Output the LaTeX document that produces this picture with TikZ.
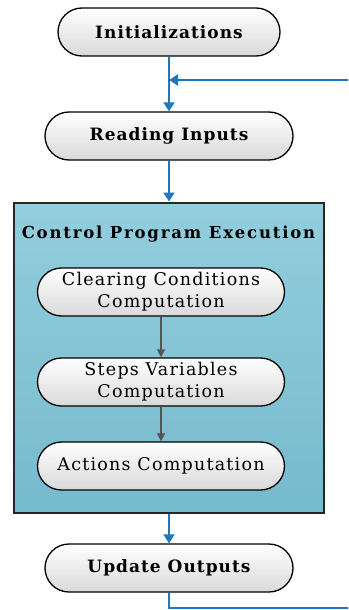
\documentclass[tikz,border=0pt]{standalone}
\usepackage{fontspec}
\setmainfont{DejaVu Serif}
\usetikzlibrary{arrows.meta,positioning}

\definecolor{flowblue}{RGB}{31,119,189}
\definecolor{progtop}{RGB}{146,206,221}
\definecolor{progbot}{RGB}{118,186,205}
\definecolor{innergray}{RGB}{85,85,85}

\tikzset{
  terminal/.style={draw=black, line width=1.3pt, rounded corners=24pt,
    top color=white, bottom color=black!15, minimum height=48pt,
    align=center, inner sep=2pt},
  outerstep/.style={terminal,
    font=\fontsize{17}{20}\selectfont\bfseries\addfontfeatures{LetterSpace=6}},
  innerstep/.style={terminal, minimum width=247pt,
    font=\fontsize{17.5}{22}\selectfont\addfontfeatures{LetterSpace=7}},
  flow/.style={draw=flowblue, line width=2pt, -{Triangle[length=9pt,width=11pt]}},
  subflow/.style={draw=innergray, line width=1.4pt, -{Triangle[length=8pt,width=8pt]}}
}

\begin{document}
\begin{tikzpicture}[x=1pt,y=-1pt]
    \useasboundingbox (0,0) rectangle (348,610);
    \clip (0,0) rectangle (348,610);

    % draw program block
    \node[draw=black!85, line width=2pt, top color=progtop, bottom color=progbot,
          minimum width=310pt, minimum height=310pt] (prog) at (168.5,357.5) {};
    \node[font=\fontsize{16.5}{20}\selectfont\bfseries\addfontfeatures{LetterSpace=11}]
          (progtitle) at (168.5,234) {Control Program Execution};

    % draw outer steps
    \node[outerstep, minimum width=222pt] (init) at (169,32) {Initializations};
    \node[outerstep, minimum width=248pt] (read) at (169,136) {Reading Inputs};
    \node[outerstep, minimum width=248pt] (upd) at (169,568) {Update Outputs};

    % draw inner steps
    \node[innerstep] (clear) at (161,292) {Clearing Conditions\\Computation};
    \node[innerstep] (vars) at (161,382) {Steps Variables\\Computation};
    \node[innerstep] (acts) at (161,466) {Actions Computation};

    % draw connectors
    \coordinate (join) at (169,80);
    \coordinate (loopend) at (370,608);
    \draw[flow] (init) -- (read);
    \draw[flow] (read) -- (prog.north -| read);
    \draw[flow] (prog.south -| upd) -- (upd);
    \draw[flow] (upd.south) |- (loopend) |- (join);
    \draw[subflow] (clear) -- (vars);
    \draw[subflow] (vars) -- (acts);
\end{tikzpicture}
\end{document}
